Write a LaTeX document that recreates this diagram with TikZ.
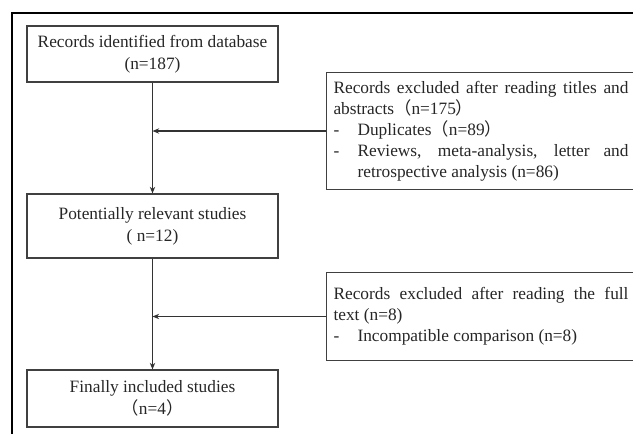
\documentclass[tikz,border=0pt]{standalone}
\usepackage{fontspec}
\setmainfont{Liberation Serif}
\newfontfamily\cjkfont{Noto Sans CJK SC}
\usetikzlibrary{arrows.meta}
\newcommand{\lp}{{\cjkfont （}}
\newcommand{\rp}{{\cjkfont ）}}
\newcommand{\sideset}{\hyphenpenalty=10000 \exhyphenpenalty=10000 \parindent=0pt\relax}
\newcommand{\dashitem}{\hangindent=18pt\hangafter=1\noindent\makebox[18pt][l]{-}}
\tikzset{
  flowbox/.style={draw=black!75, line width=0.8pt, text=black!85,
    font=\fontsize{13}{16.5}\selectfont, align=center,
    minimum width=188.25pt, inner sep=0pt},
  sidebox/.style={draw=black!75, line width=0.8pt, text=black!85,
    font=\fontsize{13}{15.75}\selectfont,
    align=justify, text width=221.25pt, inner xsep=5.25pt, inner ysep=0pt, anchor=west},
  flowarrow/.style={draw=black!80, line width=0.8pt, -{Stealth[length=5pt,width=4pt]}},
  frameline/.style={draw=black, line width=0.9pt}
}
\begin{document}
\begin{tikzpicture}[x=0.75pt,y=-0.75pt]
\useasboundingbox (0,0) rectangle (633,433);
\clip (0,0) rectangle (633,433);
\draw[frameline] (12,440) -- (12,13) -- (640,13);

\node[flowbox, minimum height=42pt] (A) at (152.5,54) {Records identified from database\\(n=187)};
\node[flowbox, minimum height=48pt] (B) at (152.5,226) {Potentially relevant studies\\( n=12)};
\node[flowbox, minimum height=42.75pt] (C) at (152.5,398.5) {Finally included studies\\\lp n=4\rp};

\node[sidebox, minimum height=87.75pt] (R1) at (326,131) {\sideset
\noindent Records excluded after reading titles and\linebreak abstracts\lp n=175\rp\par
\dashitem Duplicates\lp n=89\rp\par
\dashitem Reviews, meta-analysis, letter and\linebreak retrospective analysis (n=86)\par};

\node[sidebox, minimum height=66pt] (R2) at (326,316.5) {\sideset
\noindent Records excluded after reading the full\linebreak text (n=8)\par
\dashitem Incompatible comparison (n=8)\par};

\draw[flowarrow] (A.south) -- (B.north);
\draw[flowarrow] (B.south) -- (C.north);
\draw[flowarrow] (R1.west) -- (R1.west -| A.south);
\draw[flowarrow] (R2.west) -- (R2.west -| B.south);
\end{tikzpicture}
\end{document}
